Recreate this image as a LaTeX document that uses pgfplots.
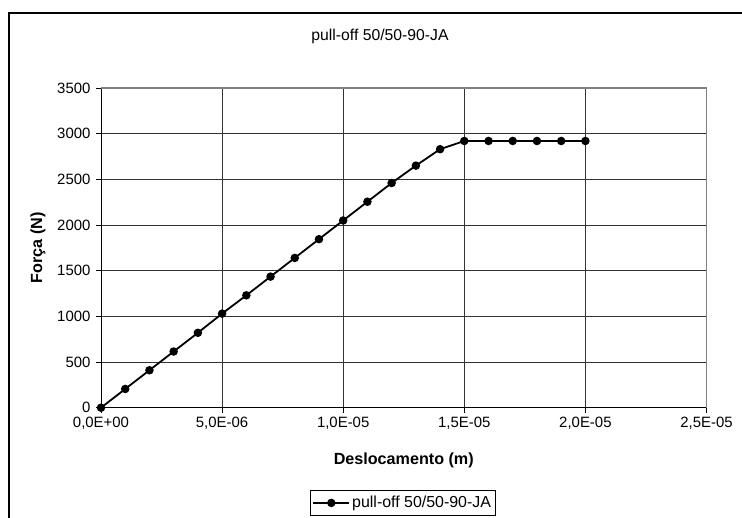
\documentclass[border=0pt]{standalone}
\usepackage{pgfplots}
\pgfplotsset{compat=1.18}
\usepackage{fontspec}
\setmainfont{Liberation Sans}
\begin{document}
\begin{tikzpicture}
\useasboundingbox (0bp,0bp) rectangle (742bp,518bp);
\clip (0bp,0bp) rectangle (742bp,518bp);
\draw[black, line width=1.5bp] (9bp,505bp) rectangle (760bp,-20bp);
\node[font=\fontsize{15.8}{18}\selectfont] at (380bp,482bp) {pull-off 50/50-90-JA};
\begin{axis}[
  at={(101bp,110.3bp)}, anchor=south west,
  scale only axis, width=605.5bp, height=319.7bp,
  xmin=0, xmax=2.5e-5, ymin=0, ymax=3500,
  axis x line*=bottom, axis y line*=left,
  axis line style={black, line width=0.8bp},
  xtick={0,5e-6,1e-5,1.5e-5,2e-5,2.5e-5},
  xticklabels={{0,0E+00},{5,0E-06},{1,0E-05},{1,5E-05},{2,0E-05},{2,5E-05}},
  scaled x ticks=false,
  ytick={0,500,1000,1500,2000,2500,3000,3500},
  /pgf/number format/1000 sep={},
  /pgf/number format/assume math mode=true,
  tick align=outside, major tick length=5bp,
  tick style={black, line width=0.8bp},
  grid=major,
  major grid style={black!80, line width=0.8bp},
  ticklabel style={font=\fontsize{15}{17}\selectfont},
  xticklabel style={yshift=-1bp},
  yticklabel style={xshift=-2bp},
  xlabel={\textbf{Deslocamento (m)}},
  ylabel={\textbf{Força (N)}},
  label style={font=\fontsize{16.2}{18}\selectfont},
  xlabel style={at={(axis description cs:0.5,-0.1658)}, anchor=center},
  ylabel style={at={(axis description cs:-0.104,0.5)}, anchor=center},
  legend style={at={(axis description cs:0.3452,-0.2574)}, anchor=north west,
    draw=black, line width=0.8bp, font=\fontsize{16}{18}\selectfont,
    inner xsep=2bp, inner ysep=4bp},
  legend cell align=left,
  legend image code/.code={
    \draw[#1, mark=none] (0bp,0bp) -- (36bp,0bp);
    \draw[#1, only marks] plot coordinates {(18bp,0bp)};
  },
  extra description/.code={
    \draw[gray, line width=1.5bp] (rel axis cs:0,1) -- (rel axis cs:1,1) -- (rel axis cs:1,0);
  },
]
\addplot[black, line width=1.8bp, mark=*, mark size=3.3bp, mark options={fill=black}]
coordinates {
(0,0) (1e-6,205) (2e-6,410) (3e-6,615) (4e-6,820) (5e-6,1030)
(6e-6,1230) (7e-6,1435) (8e-6,1640) (9e-6,1845) (1e-5,2050)
(1.1e-5,2255) (1.2e-5,2460) (1.3e-5,2650) (1.4e-5,2830) (1.5e-5,2920)
(1.6e-5,2920) (1.7e-5,2920) (1.8e-5,2920) (1.9e-5,2920) (2e-5,2920)
};
\addlegendentry{pull-off 50/50-90-JA}
\end{axis}
\end{tikzpicture}
\end{document}
